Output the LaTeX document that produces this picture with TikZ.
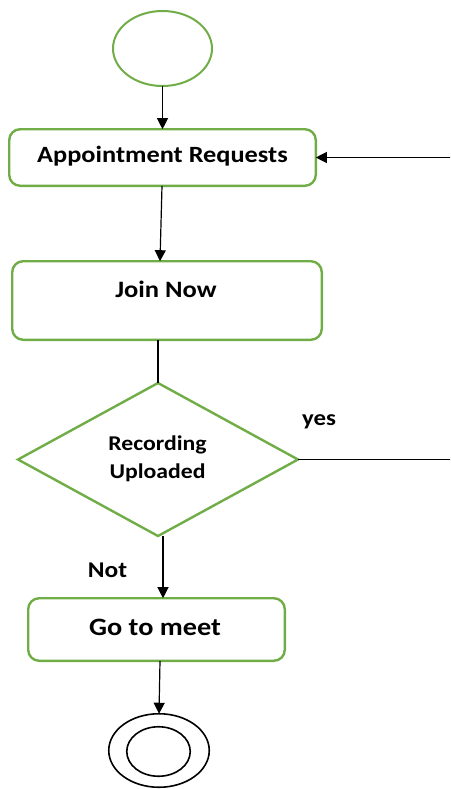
\documentclass[tikz,border=0pt]{standalone}
\usepackage{fontspec}
\setmainfont{Carlito}[FakeStretch=1.13]
\usetikzlibrary{shapes.geometric,arrows.meta,calc}
\definecolor{leaf}{RGB}{112,173,71}

\begin{document}
\begin{tikzpicture}[x=1pt,y=-1pt,
  every node/.style={inner sep=0pt, outer sep=0pt},
  flowbox/.style={rectangle, draw=leaf, line width=2.4pt, rounded corners=11pt},
  decision/.style={diamond, draw=leaf, line width=2.4pt},
  link/.style={draw=black, line width=1.2pt},
  arr/.style={link, -{Triangle[length=11pt,width=11pt]}},
  lbl/.style={anchor=base, text=black}]
\useasboundingbox (0,0) rectangle (450,789);
\clip (0,0) rectangle (450,789);

% initial state
\node[ellipse, draw=leaf, line width=2pt, minimum width=99pt, minimum height=75pt] (start) at (162.5,48.5) {};

% activities
\node[flowbox, minimum width=306.6pt, minimum height=56.6pt] (ar) at (162.5,157.5) {};
\node[lbl, font=\bfseries\fontsize{23.3}{26}\selectfont] (artext) at (162.5,162.5) {Appointment Requests};

\node[flowbox, minimum width=309.6pt, minimum height=78.6pt] (join) at (167,300.5) {};
\node[lbl, font=\bfseries\fontsize{23.5}{26}\selectfont] (jointext) at (166,297) {Join Now};

% decision
\node[decision, minimum width=280pt, minimum height=153pt] (dec) at (158,459.5) {};
\node[lbl, font=\bfseries\fontsize{21}{24}\selectfont] (dectext1) at (157.5,450) {Recording};
\node[lbl, font=\bfseries\fontsize{21}{24}\selectfont] (dectext2) at (157.5,478) {Uploaded};

\node[flowbox, minimum width=256.6pt, minimum height=62.6pt] (go) at (156.5,629.5) {};
\node[lbl, font=\bfseries\fontsize{25}{28}\selectfont] (gotext) at (155,635) {Go to meet};

% final state
\node[ellipse, draw=black, line width=1.6pt, minimum width=100.5pt, minimum height=73.5pt] (fin) at (159,750.5) {};
\node[ellipse, draw=black, line width=1.6pt, minimum width=63.5pt, minimum height=49.5pt] (finin) at (158.5,751.5) {};

% branch labels
\node[lbl, font=\bfseries\fontsize{22}{24}\selectfont] (yes) at (319,425) {yes};
\node[lbl, font=\bfseries\fontsize{22.5}{24}\selectfont] (no) at (107.5,577) {Not};

% return path of the "yes" branch
\coordinate (back) at (458,300);

% connectors
\draw[arr] (start) -- (ar);
\draw[arr] ([xshift=-0.5pt]ar.south) -- ([xshift=-7pt]join.north);
\draw[link] (join.south -| dec.north) -- (dec.north);
\draw[arr] ([xshift=5pt]dec.south) -- ([xshift=5pt]dec.south |- go.north);
\draw[arr] ([xshift=3.5pt]go.south) -- (fin.north);
\draw[arr] (dec.east) -| (back) |- (ar.east);
\end{tikzpicture}
\end{document}
